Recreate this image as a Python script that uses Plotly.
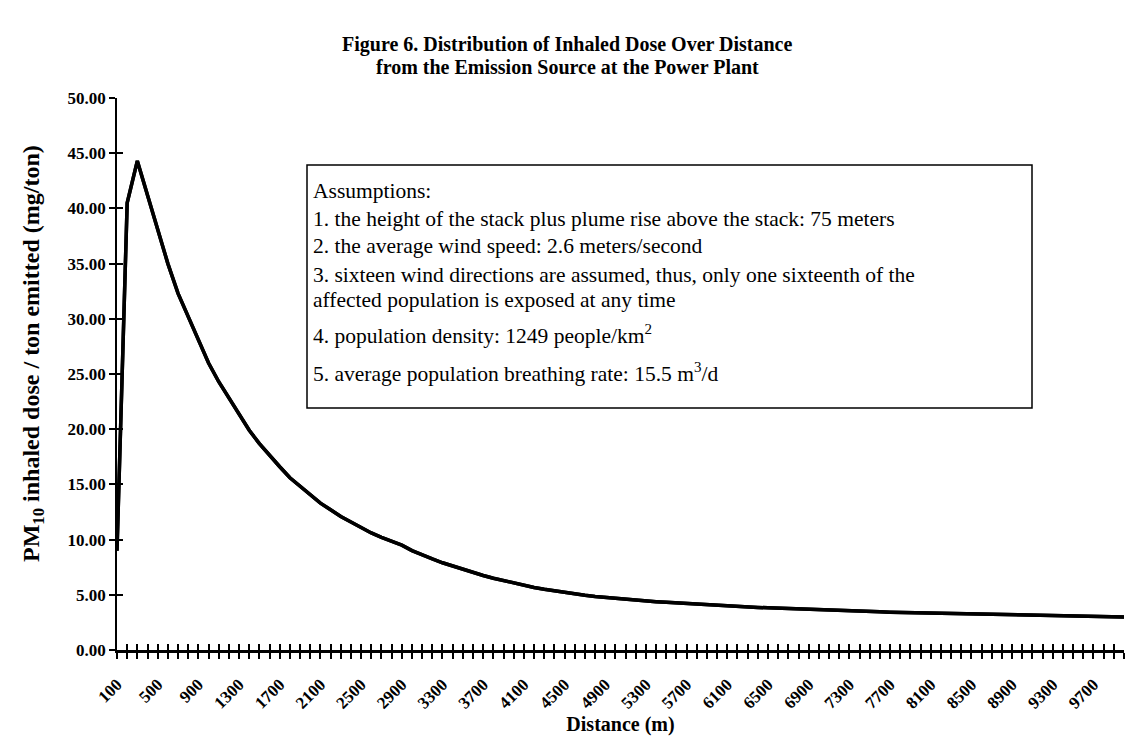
import plotly.graph_objects as go

# ---- data ----
distance_m = list(range(100, 10001, 100))
dose_mg_per_ton = [
    9.0, 40.5, 44.3, 41.2, 38.0, 35.0, 32.3, 30.2, 28.0, 26.0,
    24.3, 22.8, 21.3, 19.9, 18.7, 17.6, 16.6, 15.6, 14.8, 14.0,
    13.3, 12.7, 12.1, 11.6, 11.1, 10.6, 10.2, 9.85, 9.5, 9.0,
    8.6, 8.25, 7.9, 7.6, 7.3, 7.0, 6.75, 6.5, 6.27, 6.05,
    5.85, 5.66, 5.5, 5.35, 5.2, 5.07, 4.95, 4.85, 4.76, 4.68,
    4.6, 4.52, 4.45, 4.38, 4.32, 4.26, 4.2, 4.14, 4.09, 4.04,
    3.99, 3.94, 3.9, 3.86, 3.82, 3.78, 3.74, 3.7, 3.67, 3.64,
    3.61, 3.58, 3.55, 3.52, 3.49, 3.46, 3.43, 3.41, 3.38, 3.36,
    3.33, 3.31, 3.29, 3.27, 3.25, 3.23, 3.21, 3.19, 3.17, 3.15,
    3.13, 3.11, 3.09, 3.08, 3.06, 3.05, 3.03, 3.02, 3.01, 3.0,
]
x_tick_labels = ["100", "500", "900", "1300", "1700", "2100", "2500", "2900",
                 "3300", "3700", "4100", "4500", "4900", "5300", "5700", "6100",
                 "6500", "6900", "7300", "7700", "8100", "8500", "8900", "9300", "9700"]
y_ticks = [0, 5, 10, 15, 20, 25, 30, 35, 40, 45, 50]

title_lines = ["Figure 6. Distribution of Inhaled Dose Over Distance",
               "from the Emission Source at the Power Plant"]
assumption_lines = [
    "Assumptions:",
    "1. the height of the stack plus plume rise above the stack: 75 meters",
    "2. the average wind speed: 2.6 meters/second",
    "3. sixteen wind directions are assumed, thus, only one sixteenth of the",
    "affected population is exposed at any time",
    "4. population density: 1249 people/km<sup>2</sup>",
    "5. average population breathing rate: 15.5 m<sup>3</sup>/d",
]

SERIF = "Liberation Serif"

# page body has an 8px margin; plot area target: x 117..1124, y 98..650
L, R, T, B = 109, 25, 90, 105
PX0, PX1, PY0, PY1 = 117, 1124, 98, 650
W, H = 1141, 747


def px(xp):
    return (xp - PX0) / (PX1 - PX0)


def py(yp):
    return (PY1 - yp) / (PY1 - PY0)


fig = go.Figure()
fig.add_trace(go.Scatter(x=distance_m, y=dose_mg_per_ton, mode="lines",
                         line=dict(color="black", width=3.5), showlegend=False,
                         hoverinfo="skip"))
# same series on the overlay axes (those carry the inner half of the crossing ticks)
fig.add_trace(go.Scatter(x=distance_m, y=dose_mg_per_ton, mode="lines",
                         xaxis="x2", yaxis="y2",
                         line=dict(color="black", width=3.5), showlegend=False,
                         hoverinfo="skip"))

xr = [distance_m[0], distance_m[-1]]
yr = [0, 50]
label_vals = [int(t) for t in x_tick_labels]

fig.update_layout(
    width=W, height=H,
    paper_bgcolor="white", plot_bgcolor="white",
    margin=dict(l=L, r=R, t=T, b=B),
    showlegend=False,
    xaxis=dict(range=xr, tickmode="array", tickvals=label_vals, ticktext=x_tick_labels,
               ticks="outside", ticklen=6, tickwidth=2, tickcolor="black",
               minor=dict(tickmode="array", tickvals=distance_m, ticks="outside",
                          ticklen=6, tickwidth=2, tickcolor="black", showgrid=False),
               tickangle=-45, ticklabelstandoff=9, showgrid=False, zeroline=False,
               showline=True, linecolor="black", linewidth=2.5,
               tickfont=dict(family=SERIF, size=17, color="black", weight=700),
               title=dict(text="Distance (m)", standoff=4,
                          font=dict(family=SERIF, size=20, color="black", weight=700))),
    xaxis2=dict(range=xr, overlaying="x", anchor="y", side="bottom",
                tickmode="array", tickvals=distance_m, ticks="inside", ticklen=6,
                tickwidth=2, tickcolor="black", showticklabels=False,
                showgrid=False, zeroline=False, showline=False),
    yaxis=dict(range=yr, tickmode="array", tickvals=y_ticks, tickformat=".2f",
               ticks="outside", ticklen=6, tickwidth=2, tickcolor="black",
               showgrid=False, zeroline=False, showline=True, linecolor="black",
               linewidth=1.5,
               tickfont=dict(family=SERIF, size=17, color="black", weight=700)),
    yaxis2=dict(range=yr, overlaying="y", anchor="x", side="left",
                tickmode="array", tickvals=y_ticks, ticks="inside", ticklen=6,
                tickwidth=2, tickcolor="black", showticklabels=False,
                showgrid=False, zeroline=False, showline=False),
)

# title (two lines, placed individually to match the reference spacing)
for k, line in enumerate(title_lines):
    fig.add_annotation(text=line, xref="paper", yref="paper",
                       x=px(567), y=py(45 + 22 * k),
                       showarrow=False, xanchor="center", yanchor="middle",
                       font=dict(family=SERIF, size=20, color="black", weight=700))

# y-axis title (placed to match the reference, slightly above the plot centre)
fig.add_annotation(text="PM<sub>10</sub> inhaled dose / ton emitted (mg/ton)",
                   xref="paper", yref="paper", x=px(33), y=py(354),
                   textangle=-90, showarrow=False, xanchor="center", yanchor="middle",
                   font=dict(family=SERIF, size=24, color="black", weight=700))

# assumptions box
fig.add_shape(type="rect", xref="paper", yref="paper",
              x0=px(307), x1=px(1032), y0=py(408), y1=py(165),
              line=dict(color="black", width=1.5), fillcolor="white", layer="above")
line_y = [191, 219, 246, 275, 300, 334, 372]
for line, yp in zip(assumption_lines, line_y):
    fig.add_annotation(text=line, xref="paper", yref="paper",
                       x=px(311), y=py(yp),
                       showarrow=False, xanchor="left", yanchor="middle",
                       font=dict(family=SERIF, size=21.5, color="black"))

fig.write_html("out.html")
